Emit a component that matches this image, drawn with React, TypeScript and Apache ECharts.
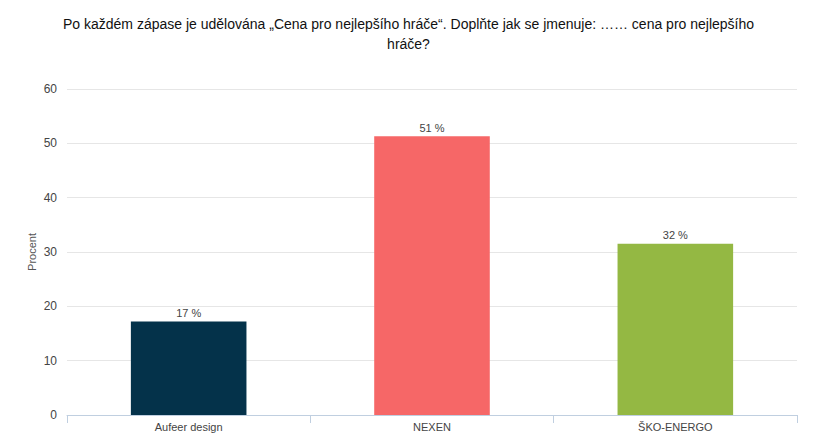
import React, { useEffect, useRef } from "react";
import * as echarts from "echarts";

const titleText =
  "Po každém zápase je udělována „Cena pro nejlepšího hráče“. Doplňte jak se jmenuje: …… cena pro nejlepšího\nhráče?";
const categories = ["Aufeer design", "NEXEN", "ŠKO-ENERGO"];
const values = [17.2, 51.3, 31.5];
const barColors = ["#04324a", "#f66767", "#94b843"];
const yAxisName = "Procent";

export default function App() {
  const ref = useRef<HTMLDivElement>(null);
  useEffect(() => {
    if (!ref.current) return;
    const chart = echarts.init(ref.current, null, { renderer: "svg" });
    chart.setOption({
      animation: false,
      backgroundColor: "#ffffff",
      title: {
        text: titleText,
        left: "center",
        top: 9,
        textStyle: {
          fontFamily: "Liberation Sans, Arial, sans-serif",
          fontSize: 14,
          fontWeight: "normal",
          color: "#111111",
          lineHeight: 20,
        },
      },
      grid: { left: 67, right: 20, top: 89, bottom: 32 },
      xAxis: {
        type: "category",
        data: categories,
        axisLine: { lineStyle: { color: "#c0cfe0" } },
        axisTick: { show: true, length: 8, lineStyle: { color: "#c0cfe0" } },
        axisLabel: {
          color: "#444444",
          fontSize: 11,
          fontFamily: "Liberation Sans, Arial, sans-serif",
          margin: 6,
        },
      },
      yAxis: {
        type: "value",
        min: 0,
        max: 60,
        interval: 10,
        name: yAxisName,
        nameLocation: "middle",
        nameGap: 30,
        nameMoveOverlap: false,
        nameTextStyle: {
          color: "#555555",
          fontSize: 11,
          fontFamily: "Liberation Sans, Arial, sans-serif",
        },
        axisLine: { show: false },
        axisTick: { show: false },
        axisLabel: {
          color: "#444444",
          fontSize: 12,
          fontFamily: "Liberation Sans, Arial, sans-serif",
          margin: 10,
        },
        splitLine: { lineStyle: { color: "#e6e6e6" } },
      },
      series: [
        {
          type: "bar",
          barWidth: "47.5%",
          data: values.map((v, i) => ({ value: v, itemStyle: { color: barColors[i] } })),
          label: {
            show: true,
            position: "top",
            distance: 3,
            color: "#444444",
            fontSize: 11,
            fontFamily: "Liberation Sans, Arial, sans-serif",
            formatter: (p: any) => Math.round(p.value) + " %",
          },
        },
      ],
    });
    return () => chart.dispose();
  }, []);
  return (
    <div
      ref={ref}
      style={{ position: "fixed", left: 0, top: 0, width: 817, height: 447 }}
    />
  );
}
